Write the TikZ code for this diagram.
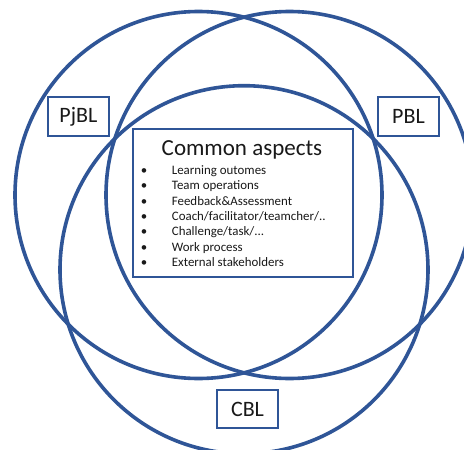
\documentclass[tikz,border=0pt]{standalone}
\usepackage{fontspec}
\setmainfont{Carlito}
\definecolor{vblue}{RGB}{47,85,151}
\definecolor{ink}{RGB}{25,25,25}
\begin{document}
\begin{tikzpicture}[x=1pt,y=-1pt,
  ring/.style={draw=vblue,line width=3.6pt},
  tagbox/.style={draw=vblue,line width=1.8pt,fill=white,minimum width=61.3pt,minimum height=38.7pt,inner sep=0pt,text=ink,font=\fontsize{22}{26}\selectfont},
  panel/.style={draw=vblue,line width=1.8pt,fill=white,minimum width=220.6pt,minimum height=148pt,inner sep=0pt},
  item/.style={anchor=base west,inner sep=0pt,text=ink,font=\fontsize{12.9}{15.4}\selectfont},
  dot/.style={anchor=base,inner sep=0pt,text=ink,font=\fontsize{12.9}{15.4}\selectfont}]
\useasboundingbox (0,0) rectangle (464,450);
\clip (0,0) rectangle (464,450);
\fill[white] (0,0) rectangle (464,450);
% circles
\draw[ring] (198.5,195) circle[radius=183.5pt];
\draw[ring] (289.5,195) circle[radius=183.5pt];
\draw[ring] (244,269.7) circle[radius=184pt];
% label boxes
\node[tagbox] (pjbl) at (78.4,116.4) {PjBL};
\node[tagbox] (pbl) at (408.5,116.5) {PBL};
\node[tagbox] (cbl) at (247.5,409) {CBL};
% common aspects panel
\node[panel] (common) at (243,203) {};
\node[anchor=base,inner sep=0pt,text=ink,font=\fontsize{23}{27}\selectfont] (title) at (242,155.7) {Common aspects};
\foreach \i in {0,...,6}{
  \node[dot] (d\i) at (144,174.3+15.4*\i) {•};
}
\node[item] (t0) at (171.7,174.3) {Learning outomes};
\node[item] (t1) at (171.7,189.7) {Team operations};
\node[item] (t2) at (171.7,205.1) {Feedback\&Assessment};
\node[item] (t3) at (171.7,220.5) {Coach/facilitator/teamcher/..};
\node[item] (t4) at (171.7,235.9) {Challenge/task/...};
\node[item] (t5) at (171.7,251.3) {Work process};
\node[item] (t6) at (171.7,266.7) {External stakeholders};
\end{tikzpicture}
\end{document}
